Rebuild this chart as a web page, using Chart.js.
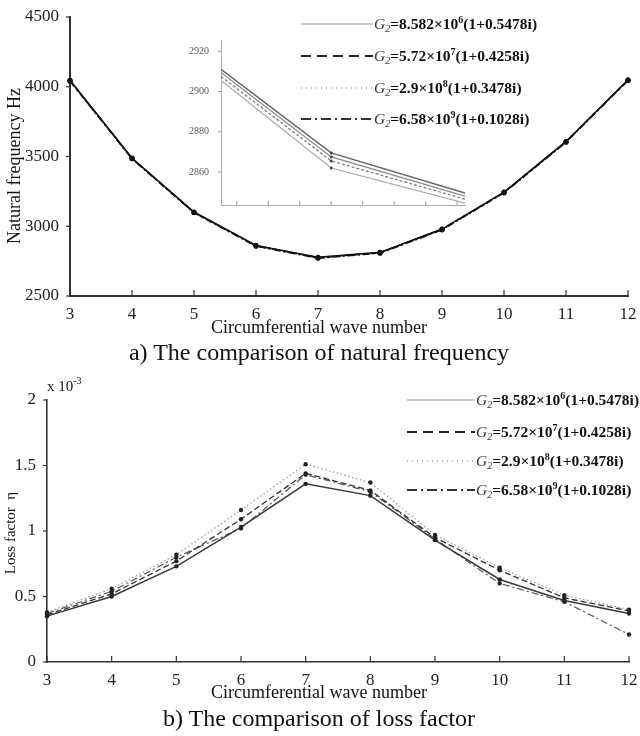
<!DOCTYPE html>
<html>
<head>
<meta charset="utf-8">
<title>Natural frequency and loss factor</title>
<script src="https://cdn.jsdelivr.net/npm/chart.js@4.4.1/dist/chart.umd.min.js"></script>
<style>
  body { margin: 0; background: #fff; }
  #page { position: relative; width: 640px; height: 736px; overflow: hidden; font-family: "Liberation Serif", "Times New Roman", serif; color: #111; }
  canvas { position: absolute; }
  .label { position: absolute; white-space: nowrap; }
  .centered { left: 0; width: 638px; text-align: center; }
  .ytitle { transform: translate(-50%, -50%) rotate(-90deg); }
  .legend-item { position: absolute; display: flex; align-items: center; height: 20px; white-space: nowrap; }
  .legend-item svg { display: block; }
  .lt { font-size: 15.5px; font-weight: bold; margin-left: 1px; }
  .lt i { font-weight: normal; color: #333; }
  .lt .sub { font-size: 10px; font-style: italic; font-weight: normal; position: relative; top: 3px; color: #333; }
  .lt .sup { font-size: 10px; position: relative; top: -6px; }
  .sup3 { font-size: 10px; position: relative; top: -7px; }
</style>
</head>
<body>
<div id="page">
  <canvas id="freqChart" width="640" height="320" style="left:0;top:0"></canvas>
  <canvas id="insetChart" width="290" height="185" style="left:180px;top:30px"></canvas>
  <canvas id="lossChart" width="640" height="314" style="left:0;top:372px"></canvas>

  <div class="label ytitle" style="left:14px;top:166px;font-size:18px">Natural frequency Hz</div>
  <div class="label centered" style="top:316px;font-size:18px;line-height:22px">Circumferential wave number</div>
  <div class="label centered" style="top:338px;font-size:24px;line-height:28px">a) The comparison of natural frequency</div>

  <div class="label" style="left:47px;top:377px;font-size:15px;line-height:18px">x 10<span class="sup3">-3</span></div>
  <div class="label ytitle" style="left:10px;top:533px;font-size:15px">Loss factor&nbsp; η</div>
  <div class="label centered" style="top:681px;font-size:18px;line-height:22px">Circumferential wave number</div>
  <div class="label centered" style="top:704px;font-size:24px;line-height:28px">b) The comparison of loss factor</div>
</div>

<script>
const waveNumbers = ['3', '4', '5', '6', '7', '8', '9', '10', '11', '12'];

// G2 cases: modulus mantissa, exponent, loss part
const gModulus = ['8.582', '5.72', '2.9', '6.58'];
const gExponent = ['6', '7', '8', '9'];
const gLoss = ['0.5478', '0.4258', '0.3478', '0.1028'];

// natural frequency in Hz (the four curves almost coincide)
const freqG1 = [4046, 3489, 3102, 2863, 2777, 2813, 2980, 3245, 3608, 4050];
const freqG2 = [4044, 3487, 3100, 2861, 2775, 2811, 2978, 3243, 3606, 4048];
const freqG3 = [4042, 3485, 3098, 2859, 2773, 2809, 2976, 3241, 3604, 4046];
const freqG4 = [4040, 3483, 3096, 2857, 2771, 2807, 2974, 3239, 3602, 4044];
const freqTicks = [2500, 3000, 3500, 4000, 4500];

// zoomed inset
const insetX = [0.5, 4, 8.25];
const insetG1 = [2911, 2869.5, 2849.5];
const insetG2 = [2909.5, 2867.5, 2848];
const insetG3 = [2907.5, 2865.5, 2846.5];
const insetG4 = [2905.5, 2862, 2844.5];
const insetXTicks = [1, 2, 3, 4, 5, 6, 7, 8];
const insetYTicks = [2860, 2880, 2900, 2920];

// loss factor, in units of 1e-3
const lossG1 = [0.35, 0.50, 0.73, 1.03, 1.36, 1.27, 0.93, 0.63, 0.47, 0.37];
const lossG2 = [0.36, 0.52, 0.77, 1.09, 1.44, 1.31, 0.95, 0.70, 0.49, 0.39];
const lossG3 = [0.38, 0.56, 0.82, 1.16, 1.51, 1.37, 0.97, 0.72, 0.51, 0.40];
const lossG4 = [0.37, 0.54, 0.80, 1.02, 1.43, 1.30, 0.94, 0.60, 0.46, 0.21];
const lossTicks = [0, 0.5, 1, 1.5, 2];

const seriesNames = gModulus.map((m, i) => 'G2=' + m + '×10^' + gExponent[i] + '(1+' + gLoss[i] + 'i)');

const lossStyles = [
  { color: '#3a3a3a', width: 1.5, dash: [] },
  { color: '#333', width: 1.3, dash: [6, 3] },
  { color: '#999', width: 1.2, dash: [1.5, 2.5] },
  { color: '#555', width: 1.2, dash: [7, 3, 2, 3] }
];
const legendStyles = [
  { color: '#999', width: 1, dash: [] },
  { color: '#222', width: 2, dash: [10, 6] },
  { color: '#777', width: 1.2, dash: [1, 4] },
  { color: '#333', width: 2, dash: [10, 4, 2, 4] }
];
const insetStyles = [
  { color: '#666', width: 1.5, dash: [] },
  { color: '#888', width: 1.2, dash: [] },
  { color: '#777', width: 1.2, dash: [3, 2] },
  { color: '#aaa', width: 1.2, dash: [] }
];

Chart.defaults.font.family = '"Liberation Serif", "Times New Roman", serif';
Chart.defaults.color = '#222';
Chart.defaults.animation = false;

// matlab style ticks: x ticks point into the plot, y ticks stick out a little
const innerTicks = {
  id: 'innerTicks',
  afterDraw(chart, args, opts) {
    const ctx = chart.ctx, a = chart.chartArea;
    const xs = chart.scales.x, ys = chart.scales.y;
    ctx.save();
    ctx.strokeStyle = opts.color;
    ctx.lineWidth = opts.width;
    xs.ticks.forEach((t, i) => {
      const px = xs.getPixelForTick(i);
      ctx.beginPath(); ctx.moveTo(px, a.bottom); ctx.lineTo(px, a.bottom - opts.len); ctx.stroke();
    });
    ys.ticks.forEach((t, i) => {
      const py = ys.getPixelForTick(i);
      ctx.beginPath(); ctx.moveTo(a.left - opts.out, py); ctx.lineTo(a.left, py); ctx.stroke();
    });
    ctx.restore();
  }
};

function fixedWidth(w) { return scale => { scale.width = w } }
function fixedHeight(h) { return scale => { scale.height = h } }
function setTicks(values) { return scale => { scale.ticks = values.map(v => ({ value: v })) } }

function baseOptions(padding, tickOpts) {
  return {
    responsive: false,
    devicePixelRatio: 1,
    layout: { padding: padding },
    plugins: { legend: { display: false }, tooltip: { enabled: false }, innerTicks: tickOpts }
  };
}

// a) natural frequency
const freqSeries = [freqG1, freqG2, freqG3, freqG4];
const freqOptions = baseOptions({ top: 17, right: 12 }, { len: 6, out: 4, color: '#333', width: 1.2 });
freqOptions.scales = {
  x: {
    grid: { display: false },
    border: { color: '#333', width: 2 },
    ticks: { font: { size: 17 }, padding: 0, maxRotation: 0, autoSkip: false, color: '#222' },
    afterFit: fixedHeight(24)
  },
  y: {
    min: 2500, max: 4500,
    grid: { display: false },
    border: { color: '#333', width: 2 },
    ticks: { font: { size: 17 }, padding: 3, color: '#222', callback: v => String(v) },
    afterBuildTicks: setTicks(freqTicks),
    afterFit: fixedWidth(70)
  }
};
new Chart(document.getElementById('freqChart'), {
  type: 'line',
  data: {
    labels: waveNumbers,
    datasets: freqSeries.map((vals, i) => ({
      label: seriesNames[i],
      data: vals,
      borderColor: '#111',
      borderWidth: 1.5,
      borderDash: lossStyles[i].dash,
      pointRadius: 2.5,
      pointBackgroundColor: '#111',
      pointBorderWidth: 0,
      tension: 0
    }))
  },
  options: freqOptions,
  plugins: [innerTicks]
});

// inset of a)
const insetSeries = [insetG1, insetG2, insetG3, insetG4];
const insetOptions = baseOptions({ top: 9, right: 5 }, { len: 4, out: 3, color: '#999', width: 1 });
insetOptions.scales = {
  x: {
    type: 'linear', min: 0.5, max: 8.25,
    grid: { display: false },
    border: { color: '#aaa', width: 1 },
    ticks: { display: false },
    afterBuildTicks: setTicks(insetXTicks),
    afterFit: fixedHeight(8)
  },
  y: {
    min: 2843.6, max: 2925.6,
    grid: { display: false },
    border: { color: '#aaa', width: 1 },
    ticks: { font: { size: 10 }, padding: 4, color: '#555', callback: v => String(v) },
    afterBuildTicks: setTicks(insetYTicks),
    afterFit: fixedWidth(41)
  }
};
new Chart(document.getElementById('insetChart'), {
  type: 'line',
  data: {
    datasets: insetSeries.map((vals, i) => ({
      label: seriesNames[i],
      data: vals.map((v, j) => ({ x: insetX[j], y: v })),
      borderColor: insetStyles[i].color,
      borderWidth: insetStyles[i].width,
      borderDash: insetStyles[i].dash,
      pointRadius: ctx => ctx.dataIndex === 1 ? 1.5 : 0,
      pointBackgroundColor: '#444',
      pointBorderWidth: 0,
      tension: 0
    }))
  },
  options: insetOptions,
  plugins: [innerTicks]
});

// b) loss factor
const lossSeries = [lossG1, lossG2, lossG3, lossG4];
const lossOptions = baseOptions({ top: 28, right: 11 }, { len: 6, out: 4, color: '#333', width: 1.2 });
lossOptions.scales = {
  x: {
    grid: { display: false },
    border: { color: '#333', width: 1.6 },
    ticks: { font: { size: 17 }, padding: 0, maxRotation: 0, autoSkip: false, color: '#222' },
    afterFit: fixedHeight(24)
  },
  y: {
    min: 0, max: 2,
    grid: { display: false },
    border: { color: '#333', width: 1.6 },
    ticks: { font: { size: 17 }, padding: 3, color: '#222', callback: v => String(v) },
    afterBuildTicks: setTicks(lossTicks),
    afterFit: fixedWidth(47)
  }
};
new Chart(document.getElementById('lossChart'), {
  type: 'line',
  data: {
    labels: waveNumbers,
    datasets: lossSeries.map((vals, i) => ({
      label: seriesNames[i],
      data: vals,
      borderColor: lossStyles[i].color,
      borderWidth: lossStyles[i].width,
      borderDash: lossStyles[i].dash,
      pointRadius: 2.2,
      pointBackgroundColor: '#222',
      pointBorderWidth: 0,
      tension: 0
    }))
  },
  options: lossOptions,
  plugins: [innerTicks]
});

// legends, drawn as html so the subscript and superscript stay real text
function buildLegend(left, tops, lineLen) {
  const page = document.getElementById('page');
  tops.forEach((y, i) => {
    const s = legendStyles[i];
    const item = document.createElement('div');
    item.className = 'legend-item';
    item.style.left = left + 'px';
    item.style.top = (y - 10) + 'px';
    item.innerHTML =
      '<svg width="' + lineLen + '" height="6"><line x1="0" y1="3" x2="' + lineLen + '" y2="3" stroke="' + s.color +
      '" stroke-width="' + s.width + '" stroke-dasharray="' + (s.dash.length ? s.dash.join(',') : 'none') + '"/></svg>' +
      '<span class="lt"><i>G</i><span class="sub">2</span>=' + gModulus[i] + '×10<span class="sup">' + gExponent[i] +
      '</span>(1+' + gLoss[i] + 'i)</span>';
    page.appendChild(item);
  });
}

buildLegend(301, [24, 56, 88, 119], 72);
buildLegend(407, [400, 432, 461, 490], 68);
</script>
</body>
</html>
